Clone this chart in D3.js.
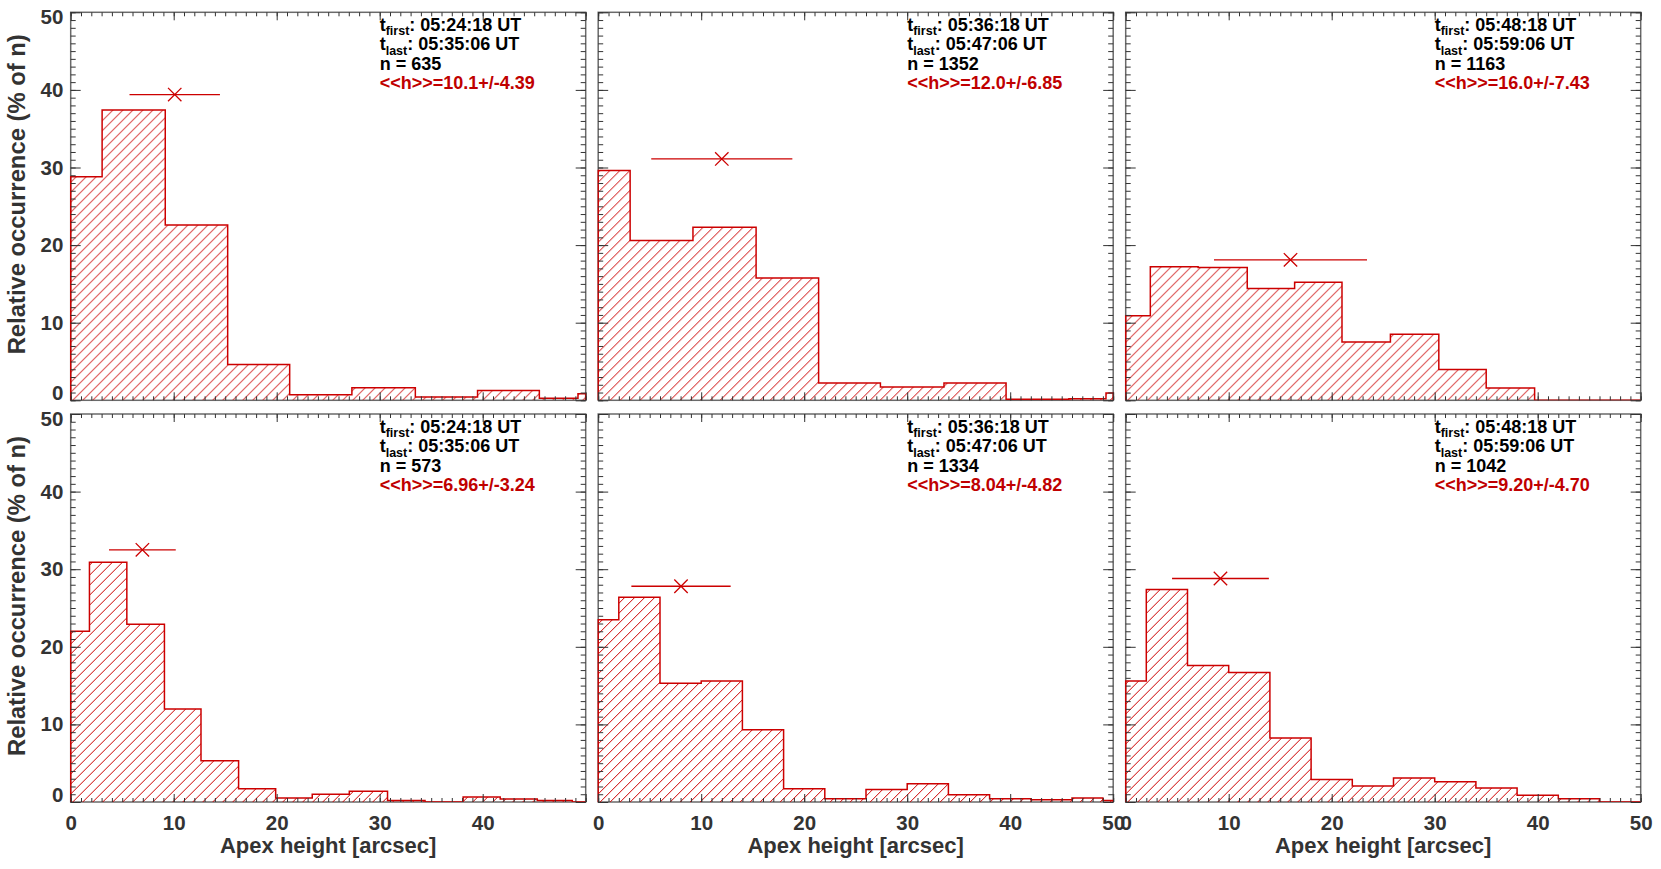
<!DOCTYPE html>
<html>
<head>
<meta charset="utf-8">
<script src="https://cdn.jsdelivr.net/npm/d3@7"></script>
<style>
  body { margin: 0; background: #fff; }
  svg { display: block; }
  text { font-family: "Liberation Sans", Arial, Helvetica, sans-serif; font-weight: bold; }
</style>
</head>
<body>
<svg id="chart" width="1661" height="869"></svg>
<script>
// ---------------- data ----------------
const xTickValues = [0, 10, 20, 30, 40, 50];
const yTickValues = [0, 10, 20, 30, 40, 50];

const tFirst = ["05:24:18", "05:36:18", "05:48:18", "05:24:18", "05:36:18", "05:48:18"];
const tLast  = ["05:35:06", "05:47:06", "05:59:06", "05:35:06", "05:47:06", "05:59:06"];
const nCounts = [635, 1352, 1163, 573, 1334, 1042];
const meanH  = [10.1, 12.0, 16.0, 6.96, 8.04, 9.20];
const sigmaH = [4.39, 6.85, 7.43, 3.24, 4.82, 4.70];
const markerY = [39.4, 31.1, 18.1, 32.5, 27.8, 28.8];

// bin edges [arcsec] and relative occurrence [% of n] for each panel
const edgesA = [0, 3.05, 9.18, 15.24, 21.26, 27.3, 33.46, 39.5, 45.5, 49.25, 50];
const occA   = [28.8, 37.4, 22.6, 4.6, 0.73, 1.63, 0.43, 1.26, 0.27, 0.83];

const edgesB = [0, 3.1, 9.2, 15.33, 21.4, 27.4, 33.57, 39.6, 45.7, 49.3, 50];
const occB   = [29.6, 20.6, 22.3, 15.75, 2.23, 1.7, 2.23, 0.13, 0.2, 0.94];

const edgesC = [0, 2.39, 7.03, 11.8, 16.4, 21.0, 25.7, 30.4, 35.0, 39.7, 50];
const occC   = [10.9, 17.2, 17.1, 14.4, 15.2, 7.5, 8.5, 3.96, 1.6, 0];

const edgesD = [0, 1.82, 5.45, 9.1, 12.65, 16.3, 19.9, 23.45, 27.05, 30.76, 34.4, 38.1, 41.7, 45.3, 48.7, 50];
const occD   = [22.0, 30.9, 22.9, 12.0, 5.3, 1.7, 0.5, 1.0, 1.4, 0.2, 0, 0.65, 0.4, 0.2, 0];

const edgesE = [0, 2, 6, 10, 14, 18, 22, 26, 30, 34, 38, 42, 46, 49, 50];
const occE   = [23.5, 26.4, 15.3, 15.6, 9.3, 1.7, 0.43, 1.6, 2.36, 0.94, 0.43, 0.3, 0.5, 0.2];

const edgesF = [0, 2, 6, 10, 14, 18, 22, 26, 30, 34, 38, 42, 46, 50];
const occF   = [15.6, 27.4, 17.6, 16.7, 8.24, 2.9, 2.06, 3.1, 2.6, 1.8, 0.86, 0.43, 0];

const yTitle = "Relative occurrence (% of n)";
const xTitle = "Apex height [arcsec]";

// ---------------- build panels ----------------
const allEdges = [edgesA, edgesB, edgesC, edgesD, edgesE, edgesF];
const allOcc = [occA, occB, occC, occD, occE, occF];
const panels = allEdges.map((e, i) => ({
  edges: e, occ: allOcc[i], tFirst: tFirst[i], tLast: tLast[i], n: nCounts[i],
  mean: meanH[i], sigma: sigmaH[i], my: markerY[i]
}));

const colX = [70.7, 598.2, 1125.7];
const rowY = [12.3, 414];
const pw = 515, ph = 388;
const red = "#cc0000";
const axisCol = "#333";

const svg = d3.select("#chart");
const defs = svg.append("defs");
const pat = defs.append("pattern").attr("id", "hatch")
  .attr("patternUnits", "userSpaceOnUse").attr("width", 10).attr("height", 10);
pat.append("path").attr("d", "M-2,2 L2,-2 M0,10 L10,0 M8,12 L12,8")
  .attr("stroke", red).attr("stroke-width", 1).attr("fill", "none");

const x = d3.scaleLinear().domain([0, 50]).range([0, pw]);
const y = d3.scaleLinear().domain([0, 50]).range([ph, 0]);
const minorVals = d3.range(0, 51, 1);

panels.forEach((p, i) => {
  const col = i % 3, row = Math.floor(i / 3);
  const g = svg.append("g").attr("transform", `translate(${colX[col]},${rowY[row]})`);

  defs.append("clipPath").attr("id", "clip" + i)
    .append("rect").attr("x", -1).attr("y", -1).attr("width", pw + 2).attr("height", ph + 1);

  // frame
  g.append("rect").attr("width", pw).attr("height", ph)
    .attr("fill", "none").attr("stroke", "#6a6a6a").attr("stroke-width", 1.5);

  // histogram
  const pts = [[p.edges[0], 0]];
  p.occ.forEach((v, k) => { pts.push([p.edges[k], v]); pts.push([p.edges[k + 1], v]); });
  pts.push([p.edges[p.edges.length - 1], 0]);
  const line = d3.line().x(d => x(d[0])).y(d => y(d[1]));
  const hg = g.append("g").attr("clip-path", `url(#clip${i})`);
  hg.append("path").attr("d", line(pts) + "Z").attr("fill", "url(#hatch)").attr("stroke", "none");
  hg.append("path").attr("d", line(pts)).attr("fill", "none")
    .attr("stroke", red).attr("stroke-width", 1.5).attr("stroke-linejoin", "miter");

  // ticks (all four sides, inward)
  const strip = s => s.select(".domain").remove();
  g.append("g").attr("transform", `translate(0,${ph})`).attr("color", axisCol)
    .call(d3.axisBottom(x).tickValues(minorVals).tickSize(-4).tickFormat("")).call(strip);
  g.append("g").attr("color", axisCol)
    .call(d3.axisTop(x).tickValues(minorVals).tickSize(-4).tickFormat("")).call(strip);
  g.append("g").attr("color", axisCol)
    .call(d3.axisLeft(y).tickValues(minorVals).tickSize(-5).tickFormat("")).call(strip);
  g.append("g").attr("transform", `translate(${pw},0)`).attr("color", axisCol)
    .call(d3.axisRight(y).tickValues(minorVals).tickSize(-5).tickFormat("")).call(strip);

  const xb = g.append("g").attr("transform", `translate(0,${ph})`).attr("color", axisCol)
    .call(d3.axisBottom(x).tickValues(xTickValues).tickSize(-8).tickPadding(13)
      .tickFormat(d => (row === 1 && !(col === 0 && d === 50)) ? d : ""))
    .call(strip);
  xb.selectAll("text").attr("font-size", 20.5).attr("fill", axisCol)
    .attr("font-family", '"Liberation Sans", Arial, sans-serif').attr("font-weight", "bold");
  g.append("g").attr("color", axisCol)
    .call(d3.axisTop(x).tickValues(xTickValues).tickSize(-8).tickFormat("")).call(strip);
  const yl = g.append("g").attr("color", axisCol)
    .call(d3.axisLeft(y).tickValues(yTickValues).tickSize(-10).tickPadding(7.4)
      .tickFormat(d => col === 0 ? d : ""))
    .call(strip);
  yl.selectAll("text").attr("font-size", 20.5).attr("fill", axisCol)
    .attr("font-family", '"Liberation Sans", Arial, sans-serif').attr("font-weight", "bold")
    .attr("transform", d => d === 0 ? "translate(0,-7)" : d === 50 ? "translate(0,5)" : null);
  g.append("g").attr("transform", `translate(${pw},0)`).attr("color", axisCol)
    .call(d3.axisRight(y).tickValues(yTickValues).tickSize(-10).tickFormat("")).call(strip);

  // mean +/- sigma marker
  const mg = g.append("g").attr("stroke", red).attr("stroke-width", 1.3);
  mg.append("line").attr("x1", x(p.mean - p.sigma)).attr("x2", x(p.mean + p.sigma))
    .attr("y1", y(p.my)).attr("y2", y(p.my));
  const cx = x(p.mean), cy = y(p.my), s = 6.7;
  mg.append("path").attr("d", `M${cx - s},${cy - s}L${cx + s},${cy + s}M${cx - s},${cy + s}L${cx + s},${cy - s}`);

  // annotation
  const tx = x(30);
  const lineY = [18.7, 38.2, 57.7, 77.2];
  const t1 = g.append("text").attr("x", tx).attr("y", lineY[0]).attr("font-size", 18).attr("fill", "#000");
  t1.append("tspan").text("t");
  t1.append("tspan").attr("font-size", 12.5).attr("dy", 4.5).text("first");
  t1.append("tspan").attr("dy", -4.5).text(": " + p.tFirst + " UT");
  const t2 = g.append("text").attr("x", tx).attr("y", lineY[1]).attr("font-size", 18).attr("fill", "#000");
  t2.append("tspan").text("t");
  t2.append("tspan").attr("font-size", 12.5).attr("dy", 4.5).text("last");
  t2.append("tspan").attr("dy", -4.5).text(": " + p.tLast + " UT");
  g.append("text").attr("x", tx).attr("y", lineY[2]).attr("font-size", 18).attr("fill", "#000")
    .text("n = " + p.n);
  g.append("text").attr("x", tx).attr("y", lineY[3]).attr("font-size", 18).attr("fill", "#c00000")
    .text("<<h>>=" + p.mean.toPrecision(3) + "+/-" + p.sigma.toPrecision(3));
});

// axis titles
[0, 1].forEach(row => {
  svg.append("text")
    .attr("transform", `translate(16.5,${rowY[row] + ph / 2 - 12}) rotate(-90)`)
    .attr("text-anchor", "middle").attr("dy", "0.35em")
    .attr("font-size", 23.8).attr("fill", axisCol).text(yTitle);
});
[0, 1, 2].forEach(col => {
  svg.append("text")
    .attr("x", colX[col] + pw / 2).attr("y", 853)
    .attr("text-anchor", "middle").attr("font-size", 22).attr("fill", axisCol).text(xTitle);
});
</script>
</body>
</html>
